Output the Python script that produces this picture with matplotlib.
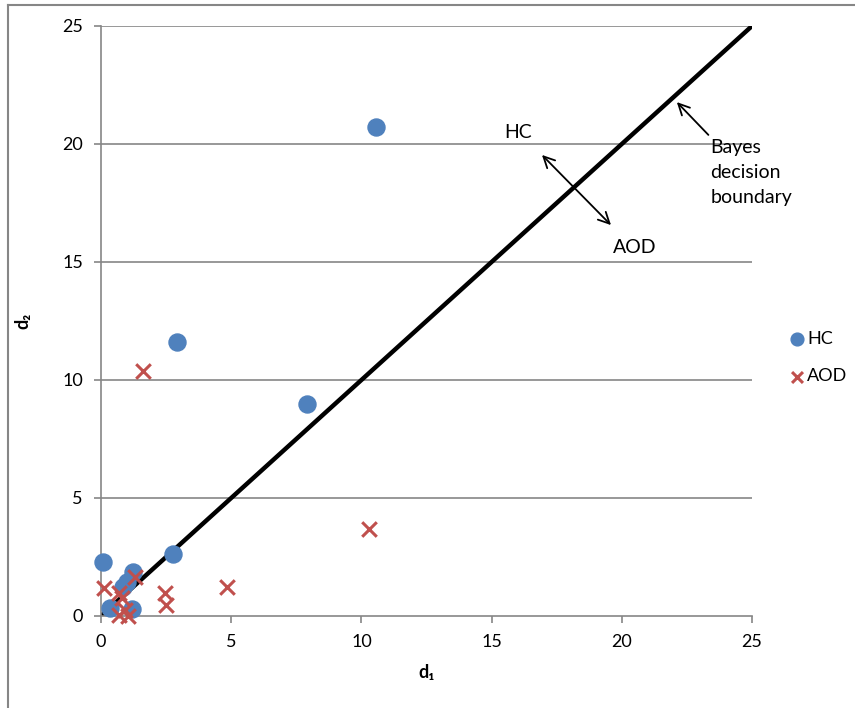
import matplotlib
matplotlib.use("Agg")
import matplotlib.pyplot as plt
from matplotlib.lines import Line2D

plt.rcParams['font.family'] = ['Lato', 'DejaVu Sans']

# HC points (d1, d2)
hc_d1 = [10.56, 2.92, 7.91, 2.75, 0.06, 1.24, 0.99, 0.86, 0.35, 1.18]
hc_d2 = [20.72, 11.61, 8.98, 2.61, 2.30, 1.88, 1.45, 1.24, 0.33, 0.28]

# AOD points (d1, d2)
aod_d1 = [1.61, 10.29, 0.12, 0.70, 0.79, 1.31, 2.46, 2.50, 4.83, 0.70, 1.05, 0.92]
aod_d2 = [10.38, 3.69, 1.17, 0.99, 0.75, 1.67, 0.99, 0.47, 1.24, 0.04, 0.00, 0.25]

boundary = [0, 25]
ticks = [0, 5, 10, 15, 20, 25]

fig = plt.figure(figsize=(8.55, 7.08), dpi=100)
ax = fig.add_axes([101 / 855, 1 - 616 / 708, 651 / 855, 590 / 708])

# outer chart border (only top and left visible)
fig.add_artist(Line2D([8 / 855, 8 / 855], [0, 1 - 5 / 708], transform=fig.transFigure, color='#868686', lw=1.5))
fig.add_artist(Line2D([8 / 855, 1], [1 - 5 / 708, 1 - 5 / 708], transform=fig.transFigure, color='#868686', lw=1.5))

for t in ticks[1:]:
    ax.axhline(t, color='#868686', lw=1.2, zorder=0)

ax.plot(boundary, boundary, color='black', lw=3.2, zorder=2)
ax.scatter(hc_d1, hc_d2, s=150, color='#4f81bd', marker='o', zorder=3, label='HC', clip_on=False)
ax.scatter(aod_d1, aod_d2, s=110, color='#c0504d', marker='x', linewidths=2.2, zorder=4, label='AOD', clip_on=False)

ax.set_xlim(0, 25)
ax.set_ylim(0, 25)
ax.set_xticks(ticks)
ax.set_yticks(ticks)
for s in ['top', 'right']:
    ax.spines[s].set_visible(False)
for s in ['left', 'bottom']:
    ax.spines[s].set_color('#868686')
    ax.spines[s].set_linewidth(1.2)
ax.tick_params(direction='out', length=5, width=1.2, color='#868686', labelsize=13, pad=8)

ax.set_xlabel('d\u2081', fontsize=13, fontweight='bold', labelpad=10)
ax.set_ylabel('d\u2082', fontsize=13, fontweight='bold', labelpad=22)

# annotations
ax.text(16.0, 20.5, 'HC', fontsize=14, ha='center', va='center')
ax.text(20.5, 15.6, 'AOD', fontsize=14, ha='center', va='center')
ax.annotate('', xy=(16.86, 19.62), xytext=(19.66, 16.48),
            arrowprops=dict(arrowstyle='<->', color='black', lw=1.3, mutation_scale=20))
ax.annotate('', xy=(22.04, 21.86), xytext=(23.4, 20.3),
            arrowprops=dict(arrowstyle='->', color='black', lw=1.3, mutation_scale=20))
ax.text(23.4, 20.2, 'Bayes\ndecision\nboundary', fontsize=14, ha='left', va='top', linespacing=1.55)

ax.legend(loc='center left', bbox_to_anchor=(1.035, 0.438), frameon=False, fontsize=13,
          handletextpad=-0.2, labelspacing=1.2, handlelength=1.5, markerscale=0.75, borderpad=0)

fig.savefig('out.png', dpi=100)
